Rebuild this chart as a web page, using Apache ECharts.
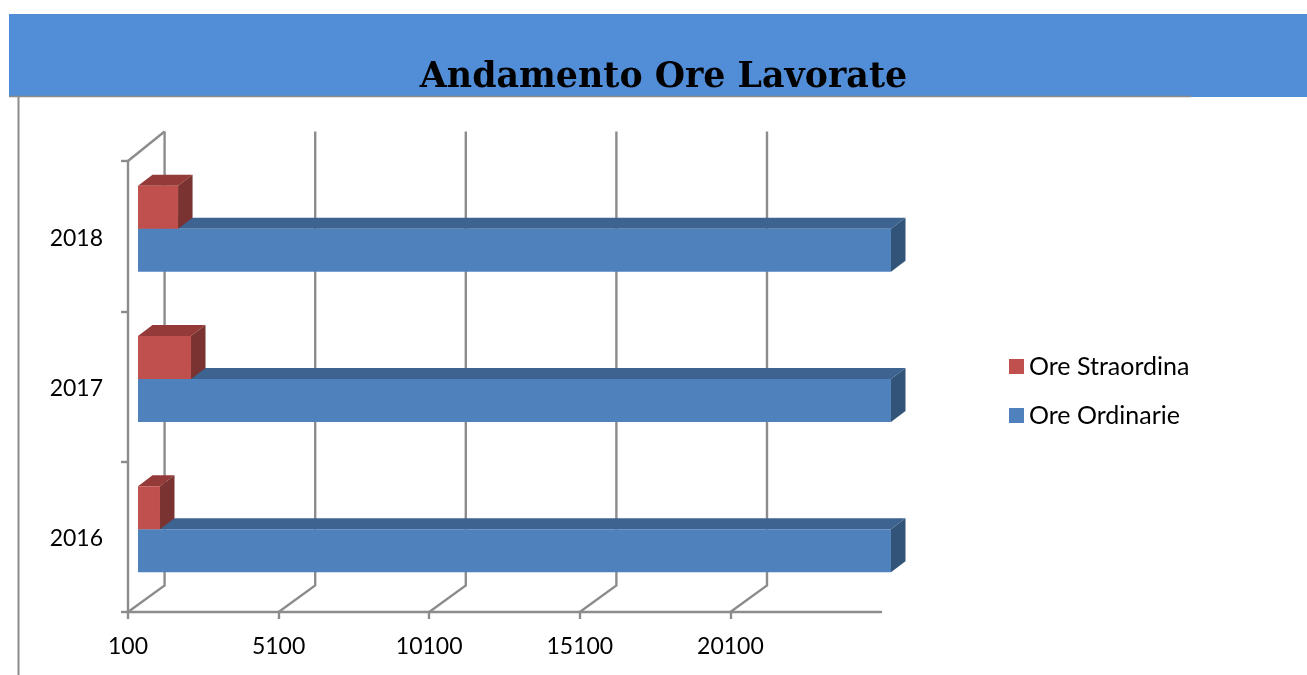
<!DOCTYPE html>
<html>
<head>
<meta charset="utf-8">
<script src="https://cdn.jsdelivr.net/npm/echarts@6/dist/echarts.min.js"></script>
<style>html,body{margin:0;padding:0;background:#fff}#c{width:1307px;height:675px}</style>
</head>
<body>
<div id="c"></div>
<script>
const titleText = 'Andamento Ore Lavorate';
const categories = ['2016', '2017', '2018'];
const oreOrdinarie = [25100, 25100, 25100];
const oreStraordinarie = [830, 1860, 1430];
const xTicks = [100, 5100, 10100, 15100, 20100];
const axisMin = 100, axisMax = 25100, axisStep = 5000;

const GRAY = '#8c8c8c';
const FONT = 'Lato';
const WALL = [36.6, -26.5];   // floor / wall depth
const BAR_SHIFT = [10, -7.5]; // bar position inside the depth
const BAR_DEPTH = [14.5, -11];
const BAR_H = 43;
const LW = 2.4;

function line(pts) {
  return { type: 'polyline', shape: { points: pts }, style: { stroke: GRAY, lineWidth: LW, fill: null } };
}
function gridItem(params, api) {
  const c = params.coordSys;
  const x = api.coord([api.value(0), 0])[0];
  const b = c.y + c.height, t = c.y;
  const kids = [line([[x, b], [x + WALL[0], b + WALL[1]], [x + WALL[0], t + WALL[1] - 3]])];
  if (params.dataIndex === 0) kids.push(line([[x, t], [x + WALL[0], t + WALL[1] - 3]]));
  return { type: 'group', children: kids };
}
function face(pts, color) {
  return { type: 'polygon', shape: { points: pts }, style: { fill: color } };
}
function barItem(rowOffset, front, top, side) {
  return function (params, api) {
    const p0 = api.coord([axisMin, api.value(1)]);
    const p1 = api.coord([api.value(0), api.value(1)]);
    const x0 = p0[0] + BAR_SHIFT[0], x1 = p1[0] + BAR_SHIFT[0];
    const y0 = p0[1] + BAR_SHIFT[1] + rowOffset * BAR_H, y1 = y0 + BAR_H;
    const dx = BAR_DEPTH[0], dy = BAR_DEPTH[1];
    return { type: 'group', children: [
      face([[x0, y0], [x1, y0], [x1 + dx, y0 + dy], [x0 + dx, y0 + dy]], top),
      face([[x1, y0], [x1, y1], [x1 + dx, y1 + dy], [x1 + dx, y0 + dy]], side),
      face([[x0, y0], [x1, y0], [x1, y1], [x0, y1]], front)
    ] };
  };
}

const chart = echarts.init(document.getElementById('c'), null, { renderer: 'canvas' });
chart.setOption({
  animation: false,
  backgroundColor: '#fff',
  graphic: [
    { type: 'rect', z: -1, silent: true, shape: { x: 9, y: 14, width: 1298, height: 83 }, style: { fill: '#528dd7' } },
    { type: 'line', z: -1, silent: true, shape: { x1: 9, y1: 96.5, x2: 1191, y2: 96.5 }, style: { stroke: GRAY, lineWidth: 1.5 } },
    { type: 'line', z: -1, silent: true, shape: { x1: 18.5, y1: 97, x2: 18.5, y2: 675 }, style: { stroke: GRAY, lineWidth: 2 } }
  ],
  title: {
    text: titleText, left: 658.5, top: 55, textAlign: 'center',
    textStyle: { fontFamily: 'DejaVu Serif', fontWeight: 'bold', fontSize: 34.8, color: '#000' }
  },
  legend: {
    orient: 'vertical', left: 1004, top: 349, itemWidth: 15, itemHeight: 15, itemGap: 24,
    icon: 'rect', selectedMode: false, data: ['Ore Straordina', 'Ore Ordinarie'],
    textStyle: { fontFamily: FONT, fontSize: 25, color: '#000', padding: [0, 0, 0, 0] }
  },
  grid: { left: 128, top: 161, width: 753, height: 451, containLabel: false },
  xAxis: {
    type: 'value', min: axisMin, max: axisMax, interval: axisStep,
    splitLine: { show: false },
    axisLine: { show: true, lineStyle: { color: GRAY, width: LW } },
    axisTick: { show: true, length: 7, customValues: xTicks, lineStyle: { color: GRAY, width: LW } },
    axisLabel: { customValues: xTicks, margin: 23, fontFamily: FONT, fontSize: 23, color: '#000',
      formatter: v => String(v) }
  },
  yAxis: {
    type: 'category', data: categories,
    axisLine: { show: true, onZero: false, lineStyle: { color: GRAY, width: LW } },
    axisTick: { show: true, length: 7, lineStyle: { color: GRAY, width: LW } },
    axisLabel: { margin: 25, formatter: '{y|{value}}',
      rich: { y: { fontFamily: FONT, fontSize: 23, color: '#000', padding: [4, 0, 0, 0] } } }
  },
  series: [
    { type: 'custom', name: 'griglia', silent: true, z: 1, clip: false, renderItem: gridItem,
      encode: { x: 0 }, data: xTicks.map(v => [v]) },
    { type: 'custom', name: 'Ore Ordinarie', silent: true, z: 2, clip: false,
      itemStyle: { color: '#4f81bd' },
      renderItem: barItem(0, '#4f81bd', '#3d6390', '#335479'),
      encode: { x: 0, y: 1 }, data: oreOrdinarie.map((v, i) => [v, i]) },
    { type: 'custom', name: 'Ore Straordina', silent: true, z: 3, clip: false,
      itemStyle: { color: '#c0504d' },
      renderItem: barItem(-1, '#c0504d', '#943a38', '#7a3331'),
      encode: { x: 0, y: 1 }, data: oreStraordinarie.map((v, i) => [v, i]) }
  ]
});
</script>
</body>
</html>
